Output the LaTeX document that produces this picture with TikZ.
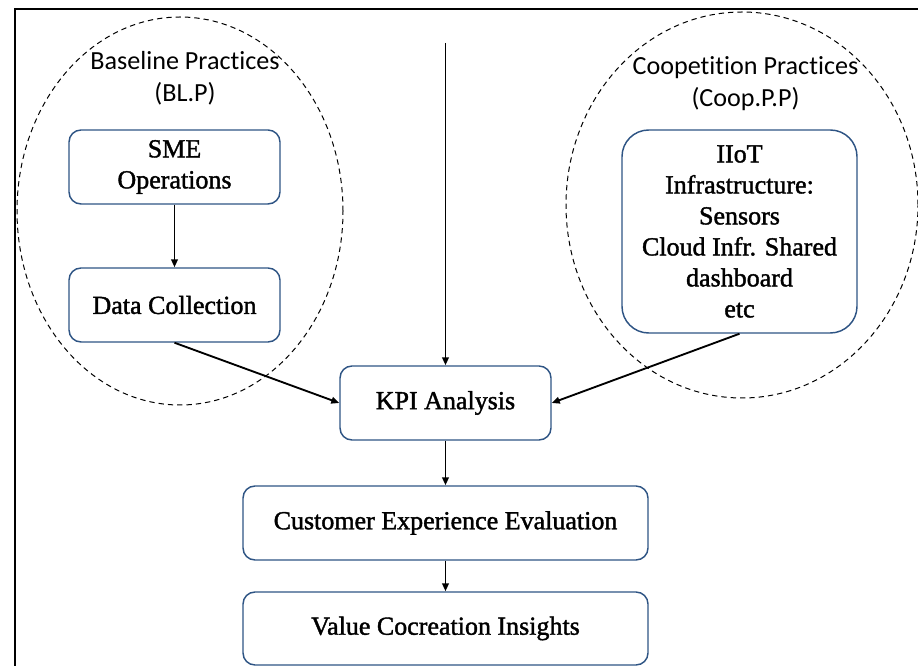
\documentclass[tikz,border=0pt]{standalone}
\usepackage{fontspec}
\setmainfont[FakeBold=1.5]{Liberation Serif}
\newfontfamily\calfont[Ligatures=NoCommon]{Carlito}
\usetikzlibrary{arrows.meta,shapes.geometric}
\definecolor{boxblue}{RGB}{46,84,132}
\begin{document}
\begin{tikzpicture}[x=0.75pt,y=-0.75pt,
  box/.style={draw=boxblue,line width=1.1pt,rounded corners=9pt,align=center,
    font=\fontsize{19.5}{23.25}\selectfont,inner sep=0pt},
  arr/.style={-{Triangle[length=6pt,width=5pt]},line width=1.4pt},
  grp/.style={draw,ellipse,dash pattern=on 4pt off 3pt,line width=0.75pt,inner sep=0pt},
  lbl/.style={align=center,font=\calfont\fontsize{19.6}{24}\selectfont,inner sep=0pt}]
\clip (0,0) rectangle (918,666);
\useasboundingbox (0,0) rectangle (918,666);
% frame
\draw[line width=1.9pt] (15,9) rectangle (960,720);
% groups
\node[grp,minimum width=326*0.75pt,minimum height=388*0.75pt] (blp) at (180,211) {};
\node[grp,minimum width=352*0.75pt,minimum height=386*0.75pt] (cpp) at (742,205) {};
\node[lbl] (blplbl) at (185,78) {Baseline Practices\\(BL.P)};
\node[lbl] (cpplbl) at (745.5,84) {Coopetition Practices\\(Coop.P.P)};
% boxes
\node[box,minimum width=211*0.75pt,minimum height=74*0.75pt] (sme) at (174.5,167) {SME\\Operations};
\node[box,minimum width=211*0.75pt,minimum height=74*0.75pt] (dc) at (174.5,305) {Data Collection};
\node[box,rounded corners=20pt,minimum width=235*0.75pt,minimum height=203*0.75pt] (iiot) at (739.5,231.5)
  {IIoT\\Infrastructure:\\Sensors\\Cloud Infr. Shared\\dashboard\\etc};
\node[box,minimum width=211*0.75pt,minimum height=74*0.75pt] (kpi) at (445.5,403) {KPI Analysis};
\node[box,minimum width=405*0.75pt,minimum height=74*0.75pt] (cee) at (445.5,523) {Customer Experience Evaluation};
\node[box,minimum width=405*0.75pt,minimum height=73*0.75pt] (vci) at (445.5,628.5) {Value Cocreation Insights};
% connectors
\coordinate (topin) at (445.5,43);
\draw[arr] (sme) -- (dc);
\draw[arr] (topin) -- (kpi.north);
\draw[arr] (dc.south) -- (kpi.west);
\draw[arr] (iiot.south) -- (kpi.east);
\draw[arr] (kpi) -- (cee);
\draw[arr] (cee) -- (vci);
\end{tikzpicture}
\end{document}
